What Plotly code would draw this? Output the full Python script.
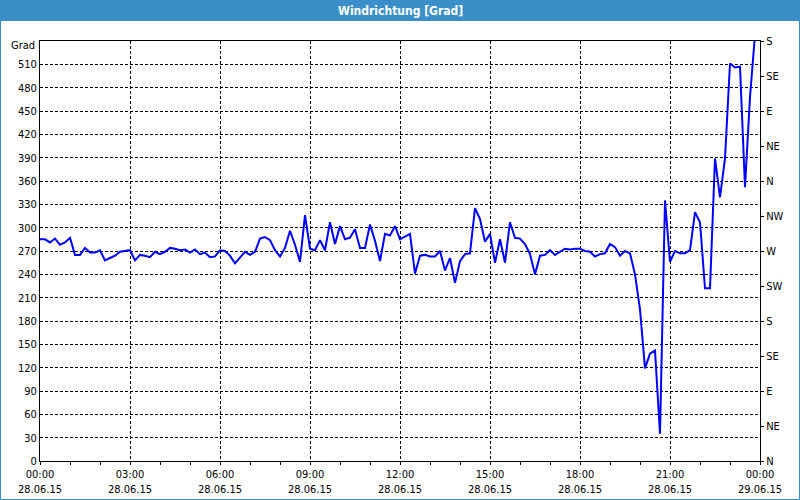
import plotly.graph_objects as go
import pandas as pd

# Wind direction in degrees, 10-minute samples starting 28.06.15 00:00
direction = [
    285, 285, 281, 286, 278, 281, 287, 265, 265, 274, 268, 268, 271, 258, 261, 264,
    269, 270, 271, 258, 265, 264, 262, 269, 266, 269, 274, 273, 271, 272, 268, 272,
    266, 268, 262, 263, 271, 270, 264, 254, 262, 269, 265, 269, 286, 288, 284, 271,
    263, 274, 296, 278, 256, 316, 273, 271, 284, 271, 307, 279, 302, 285, 287, 298,
    274, 274, 304, 283, 257, 292, 290, 302, 285, 288, 292, 241, 264, 265, 263, 263,
    270, 245, 261, 229, 257, 266, 267, 325, 311, 282, 292, 255, 285, 255, 307, 287,
    286, 279, 266, 240, 264, 265, 271, 265, 269, 273, 272, 273, 273, 270, 269, 263,
    266, 267, 279, 275, 264, 270, 267, 240, 195, 119, 138, 142, 35, 335, 256, 270,
    267, 267, 271, 320, 307, 222, 222, 389, 339, 389, 511, 506, 507, 352, 468, 548,
]
start = "2015-06-28 00:00"
end = "2015-06-29 00:00"
times = pd.date_range(start, periods=len(direction), freq="10min")

left_ticks = list(range(0, 540, 30))
compass_vals = list(range(0, 541, 45))
compass_text = ["N", "NE", "E", "SE", "S", "SW", "W", "NW", "N", "NE", "E", "SE", "S"]

title_text = "Windrichtung [Grad]"
unit_text = "Grad"

FONT = "DejaVu Sans Condensed, DejaVu Sans, sans-serif"
BAR = "#3b8fc8"
GRID_DASH = "3px,2px"

fig = go.Figure()
fig.add_trace(go.Scatter(
    x=times, y=direction, mode="lines",
    line=dict(color="#0000ff", width=2), hoverinfo="skip", showlegend=False,
))
fig.add_trace(go.Scatter(
    x=[times[0]], y=[0], mode="markers", marker=dict(opacity=0),
    yaxis="y2", hoverinfo="skip", showlegend=False,
))

# plot area in pixels: x 40..760, y 41..461
L, R, T, B = 40, 40, 41, 39
W, H = 800, 500
pw, ph = W - L - R, H - T - B


def px(xp):
    return (xp - L) / pw


def py(yp):
    return (H - B - yp) / ph


fig.update_layout(
    template="none",
    width=W, height=H,
    margin=dict(l=L, r=R, t=T, b=B, pad=0),
    paper_bgcolor="#ffffff",
    plot_bgcolor="#ffffff",
    font=dict(family=FONT, size=11, color="#000000"),
    showlegend=False,
    xaxis=dict(
        type="date", range=[start, end], automargin=False,
        tick0=start, dtick=3 * 3600 * 1000,
        tickformat="%H:%M<br>%d.%m.%y",
        ticks="outside", ticklen=3, tickcolor="#000000", tickwidth=1,
        showgrid=True, gridcolor="#000000", gridwidth=1, griddash=GRID_DASH,
        showline=True, linecolor="#000000", linewidth=1, mirror=True,
        zeroline=False,
        minor=dict(dtick=3600 * 1000, ticks="outside", ticklen=3,
                   tickcolor="#000000", showgrid=False),
        tickfont=dict(family=FONT, size=11, color="#000000"),
    ),
    yaxis=dict(
        range=[0, 540], automargin=False,
        tickmode="array", tickvals=left_ticks,
        ticks="", showgrid=True, gridcolor="#000000", gridwidth=1,
        griddash=GRID_DASH,
        showline=True, linecolor="#000000", linewidth=1, mirror=True,
        zeroline=False,
        tickfont=dict(family=FONT, size=11, color="#000000"),
    ),
    yaxis2=dict(
        range=[0, 540], overlaying="y", side="right", automargin=False,
        tickmode="array", tickvals=compass_vals, ticktext=compass_text,
        ticks="outside", ticklen=3, tickcolor="#000000",
        showgrid=False, showline=False, zeroline=False,
        tickfont=dict(family=FONT, size=11, color="#000000"),
    ),
    shapes=[
        dict(type="rect", xref="paper", yref="paper",
             x0=px(0), x1=px(800), y0=py(21), y1=py(0),
             fillcolor=BAR, line=dict(width=0), layer="above"),
        dict(type="rect", xref="paper", yref="paper",
             x0=px(0.5), x1=px(799.5), y0=py(499.5), y1=py(0.5),
             line=dict(color=BAR, width=1), fillcolor="rgba(0,0,0,0)",
             layer="above"),
    ],
    annotations=[
        dict(text="<b>" + title_text + "</b>", xref="paper", yref="paper",
             x=px(400), y=py(10.5), xanchor="center", yanchor="middle",
             showarrow=False,
             font=dict(family=FONT, size=12, color="#ffffff")),
        dict(text=unit_text, xref="paper", yref="paper",
             x=px(37), y=py(46), xanchor="right", yanchor="middle",
             showarrow=False,
             font=dict(family=FONT, size=11, color="#000000")),
    ],
)

fig.write_html("out.html")
